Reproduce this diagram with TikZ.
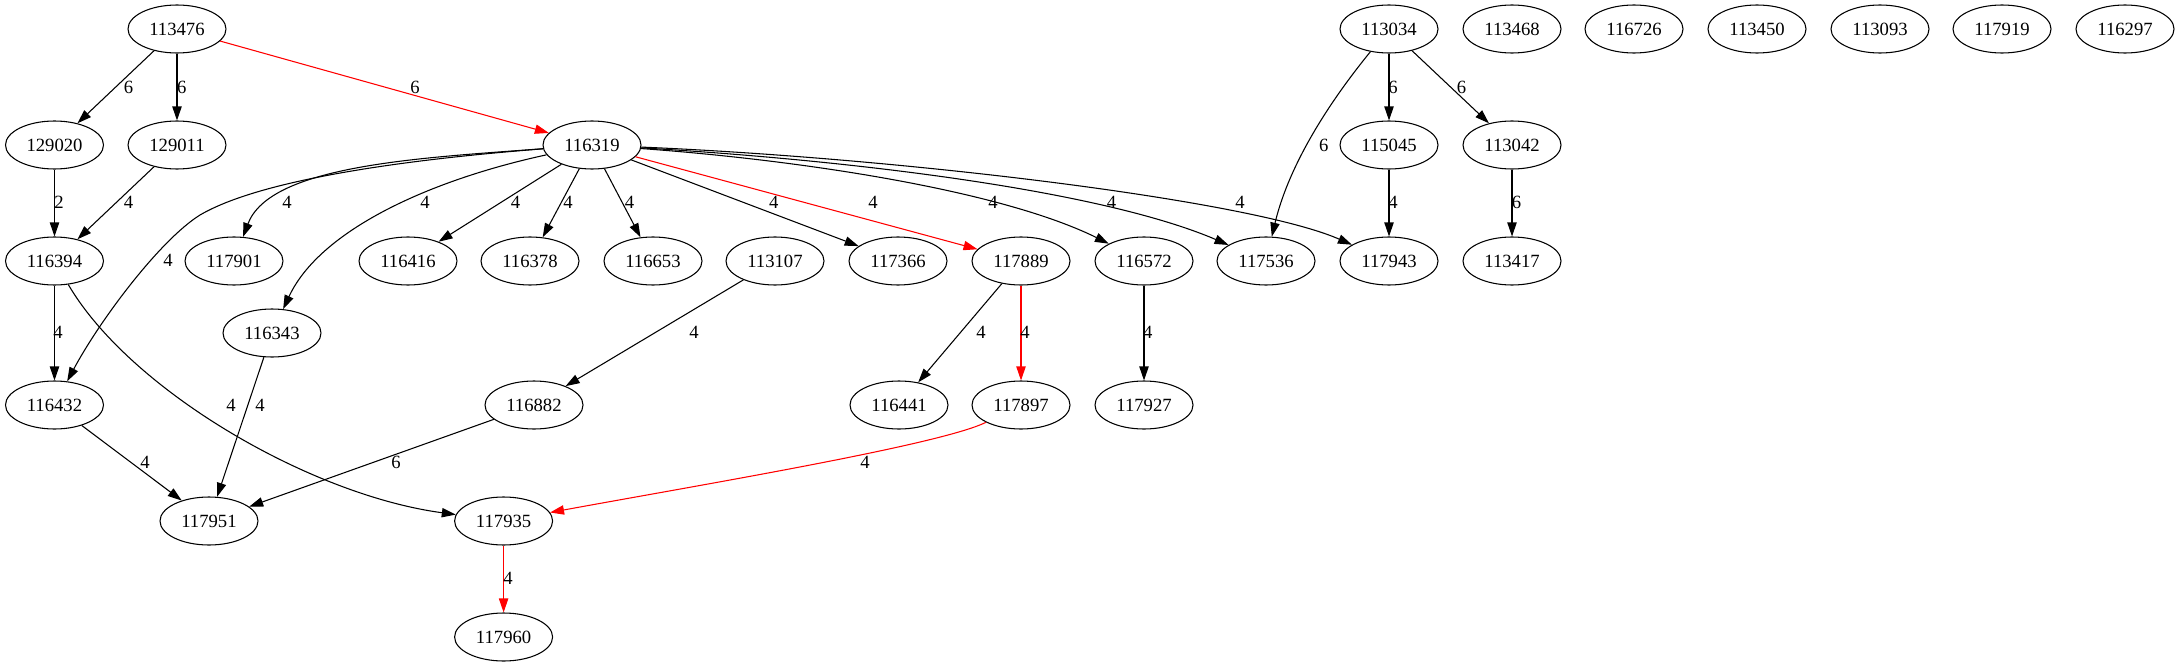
\documentclass[tikz,border=0pt]{standalone}
\usepackage{fontspec}
\setmainfont{Liberation Serif}
\usetikzlibrary{arrows.meta,shapes.geometric}
\begin{document}
\begin{tikzpicture}[x=0.75pt,y=-0.75pt,
  nd/.style={draw, ellipse, minimum width=73.5pt, minimum height=36pt, inner sep=0pt, font=\fontsize{14}{16}\selectfont, line width=0.8pt},
  edge/.style={draw, line width=0.8pt, -{Triangle[length=10.5pt,width=7pt]}},
  redge/.style={edge, red},
  lbl/.style={font=\fontsize{14}{16}\selectfont, inner sep=0pt, text=black}]
\useasboundingbox (0,0) rectangle (2180,667);
% rank 0
\node[nd] (n113476) at (177,29) {113476};
\node[nd] (n113034) at (1389,29) {113034};
\node[nd] (n113468) at (1512,29) {113468};
\node[nd] (n116726) at (1634,29) {116726};
\node[nd] (n113450) at (1757,29) {113450};
\node[nd] (n113093) at (1880,29) {113093};
\node[nd] (n117919) at (2002,29) {117919};
\node[nd] (n116297) at (2125,29) {116297};
% rank 1
\node[nd] (n129020) at (54.5,145) {129020};
\node[nd] (n129011) at (177,145) {129011};
\node[nd] (n116319) at (592,145) {116319};
\node[nd] (n115045) at (1389,145) {115045};
\node[nd] (n113042) at (1512,145) {113042};
% rank 2
\node[nd] (n116394) at (54.5,261) {116394};
\node[nd] (n117901) at (234,261) {117901};
\node[nd] (n116416) at (408,261) {116416};
\node[nd] (n116378) at (530,261) {116378};
\node[nd] (n116653) at (653,261) {116653};
\node[nd] (n113107) at (775,261) {113107};
\node[nd] (n117366) at (898,261) {117366};
\node[nd] (n117889) at (1021,261) {117889};
\node[nd] (n116572) at (1144,261) {116572};
\node[nd] (n117536) at (1266,261) {117536};
\node[nd] (n117943) at (1389,261) {117943};
\node[nd] (n113417) at (1512,261) {113417};
% rank 3
\node[nd] (n116343) at (272,333) {116343};
\node[nd] (n116432) at (54.5,405) {116432};
\node[nd] (n116882) at (534,405) {116882};
\node[nd] (n116441) at (899,405) {116441};
\node[nd] (n117897) at (1021,405) {117897};
\node[nd] (n117927) at (1144,405) {117927};
% rank 4
\node[nd] (n117951) at (209,521) {117951};
\node[nd] (n117935) at (503.6,521) {117935};
\node[nd] (n117960) at (503.6,637) {117960};

% edges
\draw[edge] (n113476) -- (n129020) node[lbl] (l1) at (128.6,87) {6};
\draw[edge] (n113476) -- (n129011) node[lbl] (l2) at (181.7,87) {6};
\draw[redge] (n113476) -- (n116319) node[lbl] (l3) at (415,87) {6};
\draw[edge] (n129020) -- (n116394) node[lbl] (l4) at (59,202) {2};
\draw[edge] (n129011) -- (n116394) node[lbl] (l5) at (128.6,202) {4};
\draw[edge] (n116319) .. controls (420,158) and (270,165) .. (n117901) node[lbl] (l6) at (287,202) {4};
\draw[edge] (n116319) .. controls (430,180) and (320,230) .. (n116343) node[lbl] (l7) at (425,202) {4};
\draw[edge] (n116319) -- (n116416) node[lbl] (l8) at (515.6,202) {4};
\draw[edge] (n116319) -- (n116378) node[lbl] (l9) at (568,202) {4};
\draw[edge] (n116319) -- (n116653) node[lbl] (l10) at (629.5,202) {4};
\draw[edge] (n116319) .. controls (400,160) and (260,180) .. (200,215) .. controls (160,240) and (100,320) .. (n116432) node[lbl] (l11) at (168,260) {4};
\draw[edge] (n116394) -- (n116432) node[lbl] (l12) at (58,332) {4};
\draw[edge] (n116319) -- (n117366) node[lbl] (l13) at (773.7,202) {4};
\draw[redge] (n116319) -- (n117889) node[lbl] (l14) at (873,202) {4};
\draw[edge] (n116319) .. controls (800,160) and (1000,190) .. (n116572) node[lbl] (l15) at (993,202) {4};
\draw[edge] (n116319) .. controls (850,160) and (1100,190) .. (n117536) node[lbl] (l16) at (1111.6,202) {4};
\draw[edge] (n116319) .. controls (900,158) and (1250,200) .. (n117943) node[lbl] (l17) at (1240,202) {4};
\draw[edge] (n113034) .. controls (1335,95) and (1290,160) .. (n117536) node[lbl] (l18) at (1323.7,145) {6};
\draw[edge] (n113034) -- (n115045) node[lbl] (l19) at (1393,87) {6};
\draw[edge] (n113034) -- (n113042) node[lbl] (l20) at (1461.6,87) {6};
\draw[edge] (n115045) -- (n117943) node[lbl] (l21) at (1393,202) {4};
\draw[edge] (n113042) -- (n113417) node[lbl] (l22) at (1516.6,202) {6};
\draw[edge] (n117889) -- (n116441) node[lbl] (l23) at (981,332) {4};
\draw[redge] (n117889) -- (n117897) node[lbl] (l24) at (1025,332) {4};
\draw[edge] (n116572) -- (n117927) node[lbl] (l25) at (1147.8,332) {4};
\draw[edge] (n113107) -- (n116882) node[lbl] (l26) at (694,332) {4};
\draw[edge] (n116343) -- (n117951) node[lbl] (l27) at (260,405) {4};
\draw[edge] (n116394) .. controls (130,390) and (310,495) .. (n117935) node[lbl] (l28) at (231,405) {4};
\draw[edge] (n116432) -- (n117951) node[lbl] (l29) at (145,462.7) {4};
\draw[edge] (n116882) -- (n117951) node[lbl] (l30) at (396,462.7) {6};
\draw[redge] (n117897) .. controls (940,445) and (700,485) .. (n117935) node[lbl] (l31) at (865,462.7) {4};
\draw[redge] (n117935) -- (n117960) node[lbl] (l32) at (508,578) {4};
\end{tikzpicture}
\end{document}
